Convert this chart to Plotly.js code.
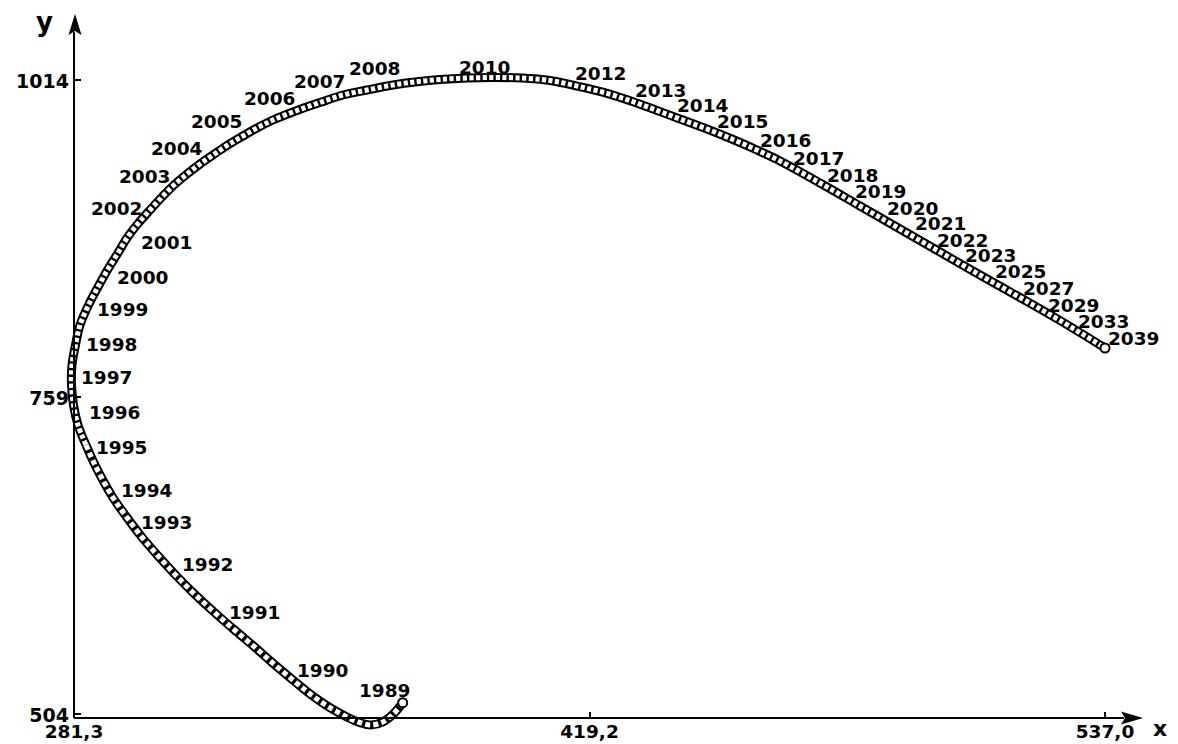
<!DOCTYPE html>
<html>
<head>
<meta charset="utf-8">
<script src="https://cdn.plot.ly/plotly-3.0.1.min.js"></script>
<style>
html, body { margin: 0; padding: 0; background: #fff; }
#chart { width: 1178px; height: 744px; }
</style>
</head>
<body>
<div id="chart"></div>
<script>
// ---- data ----
// trajectory (x, y), from 1989 to 2039
const pathX = [362.82, 360.49, 358.01, 354.96, 351.98, 349.33, 344.79, 340.40, 336.11, 331.15,
  326.19, 320.98, 316.02, 311.31, 306.85, 302.63, 298.41, 294.44, 290.72, 286.51,
  284.28, 282.29, 281.18, 280.68, 280.80, 281.67, 282.79, 285.27, 287.25, 289.73,
  292.21, 294.44, 297.30, 300.15, 303.12, 306.10, 309.33, 312.55, 315.77, 319.25,
  322.97, 326.69, 330.65, 336.61, 342.31, 348.01, 353.97, 360.41, 366.37, 372.07,
  378.77, 385.22, 390.67, 396.87, 401.09, 406.79, 413.49, 419.94, 425.89, 431.59,
  438.29, 444.74, 450.69, 456.40, 466.32, 476.24, 486.16, 496.08, 506.00, 515.92,
  525.84, 537.00];
const pathY = [513.09, 504.00, 497.80, 495.15, 497.32, 501.02, 509.07, 518.72, 529.98, 543.42,
  557.65, 571.97, 586.05, 600.13, 614.61, 629.49, 645.18, 662.07, 679.36, 704.30,
  720.39, 736.47, 752.56, 768.65, 784.74, 800.83, 816.92, 835.42, 847.48, 861.96,
  874.84, 886.90, 898.97, 909.43, 919.88, 929.54, 938.38, 946.43, 953.67, 961.31,
  968.55, 975.39, 981.82, 989.47, 995.90, 1001.93, 1005.96, 1009.98, 1012.63, 1014.40,
  1015.61, 1016.01, 1015.77, 1014.56, 1012.63, 1008.61, 1003.30, 996.54, 989.47, 982.63,
  974.58, 966.14, 957.69, 948.84, 931.15, 912.64, 894.14, 875.64, 857.14, 839.04,
  820.54, 798.42];

// labelled years and their points on the trajectory
const years = [1989, 1990, 1991, 1992, 1993, 1994, 1995, 1996, 1997, 1998, 1999, 2000, 2001,
  2002, 2003, 2004, 2005, 2006, 2007, 2008, 2010,
  2012, 2013, 2014, 2015, 2016, 2017, 2018, 2019, 2020, 2021, 2022, 2023, 2025, 2027, 2029, 2033, 2039];
const yearX = [362.82, 333.63, 316.77, 305.11, 294.94, 289.98, 283.78, 282.04, 280.06, 281.30, 284.03, 288.99, 294.94,
  298.91, 305.85, 313.79, 323.71, 336.85, 349.26, 362.90, 390.18,
  404.81, 419.69, 430.11, 440.03, 450.69, 458.88, 467.31, 474.25, 482.19, 489.13, 494.59, 501.53, 508.97, 515.92, 522.12, 529.56, 537.00];
const yearY = [513.09, 538.99, 585.65, 624.26, 658.45, 684.19, 718.38, 746.93, 775.09, 801.63, 829.79, 855.53, 883.68,
  902.99, 928.73, 951.26, 972.97, 991.48, 1005.15, 1015.61, 1016.41,
  1010.78, 997.11, 985.04, 972.17, 956.89, 942.41, 928.73, 915.86, 902.19, 890.12, 876.44, 864.38, 851.51, 837.83, 824.16, 811.29, 797.61];

// axis ticks
const xMin = 281.3, xMax = 537.0;
const xTickText = ['281,3', '419,2', '537,0'];
const yTickVals = [504, 759, 1014];
const yTickText = ['504', '759', '1014'];
const xTitle = 'x', yTitle = 'y';

// ---- layout frame (pixels) ----
const W = 1178, H = 744;
const ox = 74, oy = 718;              // axes origin
const pxXMin = 74, pxXMax = 1105;      // pixel columns of xMin, xMax
const pxYTop = 80, pxYBot = 714;       // pixel rows of top / bottom y ticks
const kx = (xMax - xMin) / (pxXMax - pxXMin);
const ky = (yTickVals[2] - yTickVals[0]) / (pxYBot - pxYTop);
const xRange = [xMin - pxXMin * kx, xMin + (W - pxXMin) * kx];
const yRange = [yTickVals[2] - (H - pxYTop) * ky, yTickVals[2] + pxYTop * ky];
const px = v => v / W, py = v => 1 - v / H;
const P = (a, b) => px(a) + ',' + py(b);

const FONT = 'DejaVu Sans, Arial, sans-serif';

// chain of rings: the early, faster part is drawn with wider spacing
const split = 20;
function chain(xs, ys, dash, whiteW) {
  return [
    { x: xs, y: ys, type: 'scatter', mode: 'lines',
      line: { color: '#000', width: 9, shape: 'spline', smoothing: 1 },
      hoverinfo: 'skip', showlegend: false },
    { x: xs, y: ys, type: 'scatter', mode: 'lines',
      line: { color: '#fff', width: whiteW, shape: 'spline', smoothing: 1, dash: dash },
      hoverinfo: 'skip', showlegend: false }
  ];
}
const traces = []
  .concat(chain(pathX.slice(0, split + 1), pathY.slice(0, split + 1), '5px,3.2px', 5.2))
  .concat(chain(pathX.slice(split), pathY.slice(split), '4.2px,2.4px', 5.0));
traces.push({
  x: [pathX[0], pathX[pathX.length - 1]], y: [pathY[0], pathY[pathY.length - 1]],
  type: 'scatter', mode: 'markers', cliponaxis: false,
  marker: { symbol: 'circle', size: 9, color: '#fff', line: { color: '#000', width: 2 } },
  hoverinfo: 'skip', showlegend: false
});

function labelPlacement(i) {
  const yr = years[i];
  if (i === 0) return { xanchor: 'center', yanchor: 'bottom', xshift: -18, yshift: 0 };
  if (yr <= 2001) return { xanchor: 'left', yanchor: 'middle', xshift: 10, yshift: 0 };
  if (yr <= 2010) return { xanchor: 'right', yanchor: 'bottom', xshift: 0, yshift: -3 };
  return { xanchor: 'left', yanchor: 'bottom', xshift: 1, yshift: -2 };
}

const annotations = years.map((yr, i) => Object.assign({
  x: yearX[i], y: yearY[i], xref: 'x', yref: 'y',
  text: String(yr), showarrow: false,
  font: { family: FONT, size: 18.5, color: '#000', weight: 'bold' }
}, labelPlacement(i)));

annotations.push({
  xref: 'paper', yref: 'paper', x: px(44), y: py(22), text: yTitle, showarrow: false,
  xanchor: 'center', yanchor: 'middle',
  font: { family: FONT, size: 26, color: '#000', weight: 'bold' }
});
annotations.push({
  xref: 'paper', yref: 'paper', x: px(1160), y: py(743), text: xTitle, showarrow: false,
  xanchor: 'center', yanchor: 'bottom',
  font: { family: FONT, size: 22, color: '#000', weight: 'bold' }
});

const shapes = [
  { type: 'line', xref: 'paper', yref: 'paper', x0: px(ox), y0: py(oy), x1: px(ox), y1: py(32),
    line: { color: '#000', width: 2 } },
  { type: 'line', xref: 'paper', yref: 'paper', x0: px(ox), y0: py(oy), x1: px(1124), y1: py(oy),
    line: { color: '#000', width: 2 } },
  { type: 'path', xref: 'paper', yref: 'paper',
    path: 'M' + P(75, 14) + 'L' + P(81.5, 35) + 'L' + P(75, 31) + 'L' + P(68.5, 35) + 'Z',
    fillcolor: '#000', line: { width: 0 } },
  { type: 'path', xref: 'paper', yref: 'paper',
    path: 'M' + P(1143, oy) + 'L' + P(1121, oy - 6.5) + 'L' + P(1125, oy) + 'L' + P(1121, oy + 6.5) + 'Z',
    fillcolor: '#000', line: { width: 0 } }
];

const axisCommon = {
  anchor: 'free', showline: false, showgrid: false, zeroline: false,
  ticks: 'inside', ticklen: 6, tickwidth: 2, tickcolor: '#000',
  fixedrange: true
};

const layout = {
  width: W, height: H,
  margin: { l: 0, r: 0, t: 0, b: 0, pad: 0 },
  paper_bgcolor: '#fff', plot_bgcolor: '#fff',
  showlegend: false,
  xaxis: Object.assign({}, axisCommon, {
    range: xRange, position: py(oy),
    tickmode: 'array', tickvals: [xMin, (xMin + xMax) / 2, xMax], ticktext: xTickText,
    tickfont: { family: FONT, size: 18.5, color: '#000', weight: 'bold' },
    ticklabelstandoff: 0
  }),
  yaxis: Object.assign({}, axisCommon, {
    range: yRange, position: px(ox),
    tickmode: 'array', tickvals: yTickVals, ticktext: yTickText,
    tickfont: { family: FONT, size: 19, color: '#000', weight: 'bold' },
    ticklabelstandoff: 5, ticklabelshift: 1
  }),
  annotations: annotations,
  shapes: shapes
};

Plotly.newPlot('chart', traces, layout, { displayModeBar: false, staticPlot: true });
</script>
</body>
</html>
